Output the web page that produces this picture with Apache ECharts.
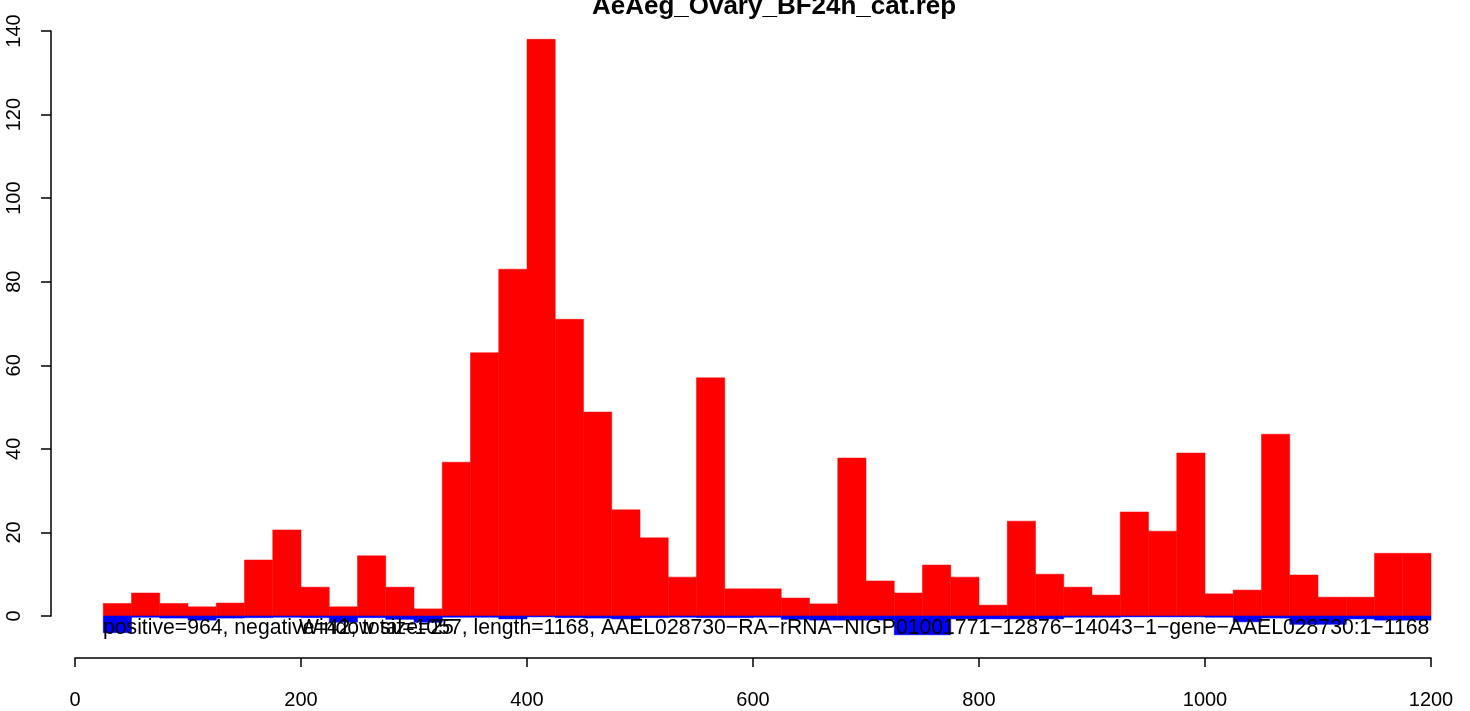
<!DOCTYPE html>
<html>
<head>
<meta charset="utf-8">
<script src="https://cdn.jsdelivr.net/npm/echarts@6/dist/echarts.min.js"></script>
<style>
  html, body { margin: 0; padding: 0; background: #fff; }
  #chart { width: 1470px; height: 711px; }
</style>
</head>
<body>
<div id="chart"></div>
<script>
// window start positions (window size 25)
var windowSize = 25;
var binStart = [25, 50, 75, 100, 125, 150, 175, 200, 225, 250, 275, 300, 325, 350, 375, 400,
  425, 450, 475, 500, 525, 550, 575, 600, 625, 650, 675, 700, 725, 750, 775, 800,
  825, 850, 875, 900, 925, 950, 975, 1000, 1025, 1050, 1075, 1100, 1125, 1150, 1175];

// positive strand counts (red)
var positive = [3, 5.5, 3, 2.2, 3.1, 13.4, 20.6, 6.9, 2.2, 14.4, 6.9, 1.7, 36.8, 63, 83, 138,
  71, 48.8, 25.4, 18.7, 9.3, 57, 6.5, 6.5, 4.3, 2.9, 37.8, 8.4, 5.5, 12.2, 9.3, 2.6,
  22.7, 10, 6.9, 5, 24.9, 20.3, 39, 5.3, 6.2, 43.5, 9.8, 4.5, 4.5, 15, 15];

// negative strand counts (blue)
var negative = [-4, -0.3, -0.5, -1, -0.5, -0.4, -0.3, -0.4, -1.5, -0.4, -0.8, -1.5, -0.3, -0.3, -0.7, -0.2,
  -0.4, -0.5, -0.7, -0.4, -0.3, -0.4, -0.4, -0.3, -0.8, -1, -1, -1, -4.5, -4.5, -0.7, -0.7,
  -0.7, -0.7, -0.3, -0.3, -0.2, -0.2, -0.2, -0.3, -1.4, -0.5, -2, -2, -0.7, -1, -1];

var xTicks = [0, 200, 400, 600, 800, 1000, 1200];
var yTicks = [0, 20, 40, 60, 80, 100, 120, 140];

var titleText = 'AeAeg_Ovary_BF24h_cat.rep';
var infoText = 'positive=964, negative=42, total=1057, length=1168, AAEL028730\u2212RA\u2212rRNA\u2212NIGP01001771\u221212876\u221214043\u22121\u2212gene\u2212AAEL028730:1\u22121168';
var windowText = 'Window size=25';

var FONT = '"Liberation Sans", Arial, Helvetica, sans-serif';

function toData(vals) {
    var out = [];
    for (var i = 0; i < binStart.length; i++) {
        out.push([binStart[i], binStart[i] + windowSize, vals[i]]);
    }
    return out;
}

function makeRender(color) {
    return function (params, api) {
        var p0 = api.coord([api.value(0), 0]);
        var p1 = api.coord([api.value(1), api.value(2)]);
        return {
            type: 'rect',
            shape: {
                x: p0[0],
                y: Math.min(p0[1], p1[1]),
                width: p1[0] - p0[0],
                height: Math.abs(p1[1] - p0[1])
            },
            style: { fill: color, stroke: color, lineWidth: 0.5 }
        };
    };
}

var myChart = echarts.init(document.getElementById('chart'));

var option = {
    animation: false,
    backgroundColor: '#ffffff',
    title: {
        text: titleText,
        left: 769,
        top: -11,
        textAlign: 'center',
        textStyle: { fontFamily: FONT, fontSize: 26, fontWeight: 'bold', color: '#000' }
    },
    grid: { left: 75, right: 39, top: 31, bottom: 95, containLabel: false },
    xAxis: {
        type: 'value',
        min: 0,
        max: 1200,
        interval: 200,
        offset: 42,
        axisLine: { show: true, onZero: false, lineStyle: { color: '#000', width: 1.5 } },
        axisTick: { show: true, length: 9, lineStyle: { color: '#000', width: 1.5 } },
        axisLabel: {
            margin: 32,
            color: '#000',
            fontFamily: FONT,
            fontSize: 20,
            formatter: function (v) { return xTicks.indexOf(v) >= 0 ? String(v) : ''; }
        },
        splitLine: { show: false }
    },
    yAxis: {
        type: 'value',
        position: 'left',
        min: 0,
        max: 140,
        interval: 20,
        offset: 24,
        axisLine: { show: true, onZero: false, lineStyle: { color: '#000', width: 1.5 } },
        axisTick: { show: true, length: 10, lineStyle: { color: '#000', width: 1.5 } },
        axisLabel: {
            rotate: 90,
            margin: 27,
            color: '#000',
            fontFamily: FONT,
            fontSize: 20,
            formatter: function (v) { return yTicks.indexOf(v) >= 0 ? String(v) : ''; }
        },
        splitLine: { show: false }
    },
    series: [
        {
            name: 'positive',
            type: 'custom',
            clip: false,
            renderItem: makeRender('#ff0000'),
            data: toData(positive),
            z: 2
        },
        {
            name: 'negative',
            type: 'custom',
            clip: false,
            renderItem: makeRender('#0000ff'),
            data: toData(negative),
            z: 3
        }
    ],
    graphic: [
        {
            type: 'text',
            x: 103,
            y: 628,
            z: 10,
            style: { text: infoText, font: '21.2px ' + FONT, fill: '#000', align: 'left', verticalAlign: 'middle' }
        },
        {
            type: 'text',
            x: 299,
            y: 628,
            z: 10,
            style: { text: windowText, font: '21.2px ' + FONT, fill: '#000', align: 'left', verticalAlign: 'middle' }
        }
    ]
};

myChart.setOption(option);
</script>
</body>
</html>
